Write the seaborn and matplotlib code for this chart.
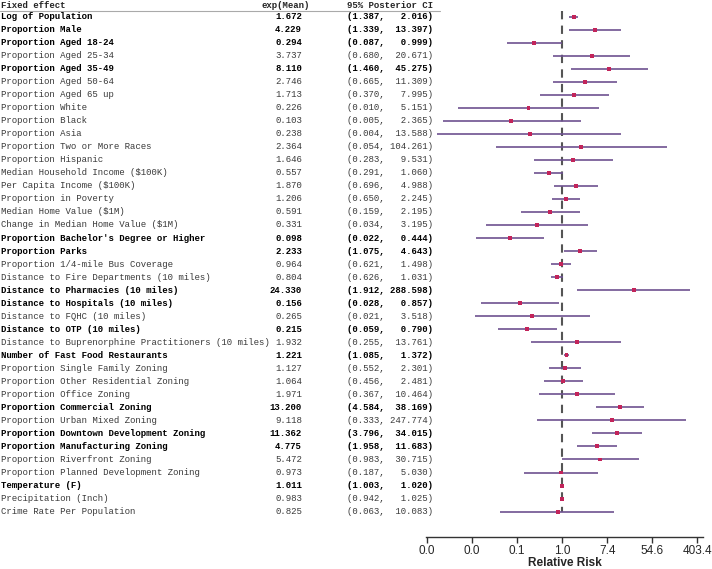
import matplotlib
matplotlib.use("Agg")
import matplotlib.pyplot as plt
import matplotlib.transforms as mtransforms
import seaborn as sns
import numpy as np
import pandas as pd

# Fixed effects table (exp of posterior mean and 95% posterior CI)
effects = [
    "Log of Population", "Proportion Male", "Proportion Aged 18-24", "Proportion Aged 25-34",
    "Proportion Aged 35-49", "Proportion Aged 50-64", "Proportion Aged 65 up", "Proportion White",
    "Proportion Black", "Proportion Asia", "Proportion Two or More Races", "Proportion Hispanic",
    "Median Household Income ($100K)", "Per Capita Income ($100K)", "Proportion in Poverty",
    "Median Home Value ($1M)", "Change in Median Home Value ($1M)",
    "Proportion Bachelor's Degree or Higher", "Proportion Parks", "Proportion 1/4-mile Bus Coverage",
    "Distance to Fire Departments (10 miles)", "Distance to Pharmacies (10 miles)",
    "Distance to Hospitals (10 miles)", "Distance to FQHC (10 miles)", "Distance to OTP (10 miles)",
    "Distance to Buprenorphine Practitioners (10 miles)", "Number of Fast Food Restaurants",
    "Proportion Single Family Zoning", "Proportion Other Residential Zoning", "Proportion Office Zoning",
    "Proportion Commercial Zoning", "Proportion Urban Mixed Zoning",
    "Proportion Downtown Development Zoning", "Proportion Manufacturing Zoning",
    "Proportion Riverfront Zoning", "Proportion Planned Development Zoning", "Temperature (F)",
    "Precipitation (Inch)", "Crime Rate Per Population",
]
exp_mean = [
    1.672, 4.229, 0.294, 3.737, 8.110, 2.746, 1.713, 0.226, 0.103, 0.238, 2.364, 1.646,
    0.557, 1.870, 1.206, 0.591, 0.331, 0.098, 2.233, 0.964, 0.804, 24.330, 0.156, 0.265,
    0.215, 1.932, 1.221, 1.127, 1.064, 1.971, 13.200, 9.118, 11.362, 4.775, 5.472, 0.973,
    1.011, 0.983, 0.825,
]
ci_low = [
    1.387, 1.339, 0.087, 0.680, 1.460, 0.665, 0.370, 0.010, 0.005, 0.004, 0.054, 0.283,
    0.291, 0.696, 0.650, 0.159, 0.034, 0.022, 1.075, 0.621, 0.626, 1.912, 0.028, 0.021,
    0.059, 0.255, 1.085, 0.552, 0.456, 0.367, 4.584, 0.333, 3.796, 1.958, 0.983, 0.187,
    1.003, 0.942, 0.063,
]
ci_high = [
    2.016, 13.397, 0.999, 20.671, 45.275, 11.309, 7.995, 5.151, 2.365, 13.588, 104.261, 9.531,
    1.060, 4.988, 2.245, 2.195, 3.195, 0.444, 4.643, 1.498, 1.031, 288.598, 0.857, 3.518,
    0.790, 13.761, 1.372, 2.301, 2.481, 10.464, 38.169, 247.774, 34.015, 11.683, 30.715, 5.030,
    1.020, 1.025, 10.083,
]

df = pd.DataFrame({"effect": effects, "mean": exp_mean, "low": ci_low, "high": ci_high})
df["row"] = np.arange(len(df))
df["signif"] = (df["low"] > 1) | (df["high"] < 1)

sns.set_theme(style="white")
plt.rcParams['font.family'] = ['Liberation Sans', 'DejaVu Sans']

W, H = 712, 569
fig = plt.figure(figsize=(W / 100, H / 100), dpi=100)
ax = fig.add_axes([426 / W, (H - 537) / H, (703 - 426) / W, 537 / H])

# CI lines and point estimates
ax.hlines(df["row"], df["low"], df["high"], color="#6e5290", linewidth=1.2, zorder=2)
sns.scatterplot(data=df, x="mean", y="row", ax=ax, marker="s", s=8,
                color="#c2245a", edgecolor="none", zorder=3, legend=False)
ax.vlines(1, -0.4, 38.0, colors="#555555", linestyles=(0, (4, 3)), linewidth=1.5, zorder=1)

ax.set_xscale("log")
ticks = np.exp(np.arange(-6, 7, 2))
ax.set_xticks(ticks)
ax.set_xticklabels([f"{t:.1f}" for t in ticks], fontsize=8.5)
ax.minorticks_off()
ax.set_xlim(np.exp(-6.03), np.exp(6.25))
ax.set_ylim(len(df) - 1 + 1.95, -1.27)
ax.set_yticks([])
ax.set_ylabel("")
ax.set_xlabel("Relative Risk", fontsize=8.5, fontweight="bold", labelpad=0)
for s in ["top", "right", "left"]:
    ax.spines[s].set_visible(False)
ax.spines["bottom"].set_color("#333333")
ax.spines["bottom"].set_linewidth(1.0)
ax.tick_params(axis="x", bottom=True, direction="out", length=4, width=1.0, color="#333333", pad=1.5)

# Table on the left
trans = mtransforms.blended_transform_factory(fig.transFigure, ax.transData)
mono = ["Liberation Mono", "DejaVu Sans Mono"]
fs = 6.5
hdr_y = -0.82
ax.text(1 / W, hdr_y, "Fixed effect", transform=trans, family=mono, fontsize=fs,
        fontweight="bold", va="center", ha="left", clip_on=False)
ax.text(262 / W, hdr_y, "exp(Mean)", transform=trans, family=mono, fontsize=fs,
        fontweight="bold", va="center", ha="left", clip_on=False)
ax.text(347 / W, hdr_y, "95% Posterior CI", transform=trans, family=mono, fontsize=fs,
        fontweight="bold", va="center", ha="left", clip_on=False)
ax.plot([0, 440 / W], [-0.41, -0.41], transform=trans, color="#aaaaaa", linewidth=0.8, clip_on=False)

for _, r in df.iterrows():
    weight = "bold" if r["signif"] else "normal"
    col = "#000000" if r["signif"] else "#3a3a3a"
    ax.text(1 / W, r["row"], r["effect"], transform=trans, family=mono, fontsize=fs,
            fontweight=weight, color=col, va="center", ha="left", clip_on=False)
    ax.text(302 / W, r["row"], f"{r['mean']:.3f}", transform=trans, family=mono, fontsize=fs,
            fontweight=weight, color=col, va="center", ha="right", clip_on=False)
    ax.text(347 / W, r["row"], f"({r['low']:.3f}, {r['high']:7.3f})", transform=trans,
            family=mono, fontsize=fs, fontweight=weight, color=col, va="center", ha="left",
            clip_on=False)

fig.savefig("out.png", dpi=100)
